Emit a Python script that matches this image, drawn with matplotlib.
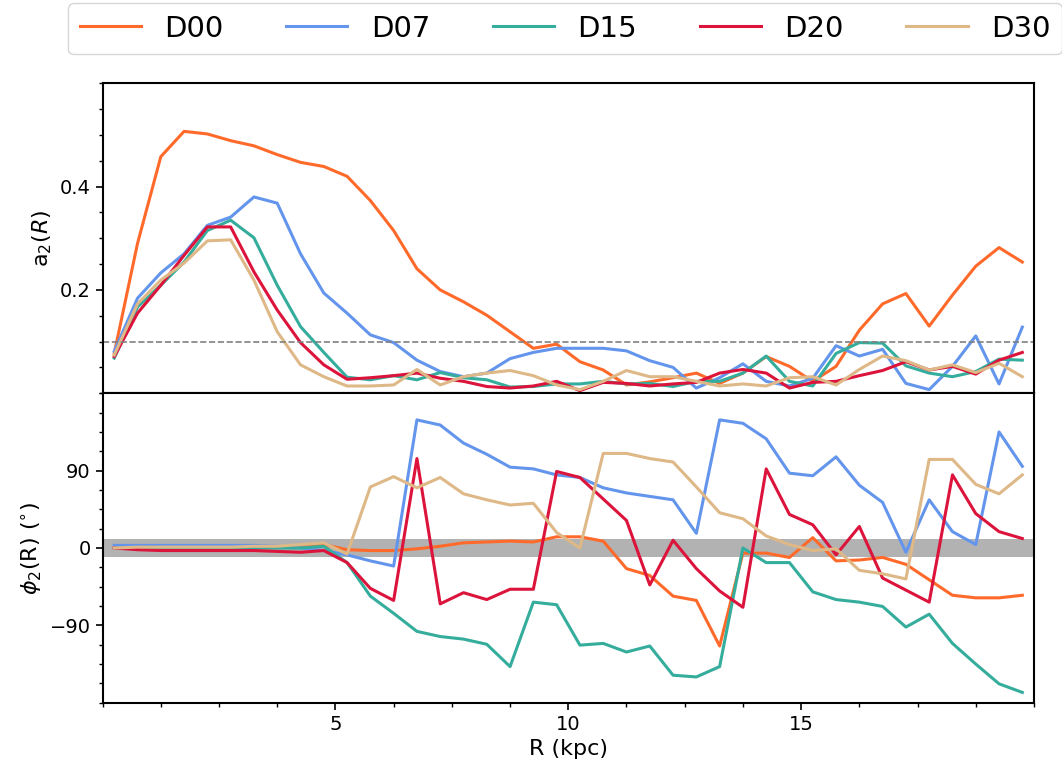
import numpy as np
import matplotlib
matplotlib.use("Agg")
import matplotlib.pyplot as plt
from matplotlib.ticker import MultipleLocator

# radii of the annuli (kpc)
R = np.arange(40) * 0.5 + 0.25

labels = ["D00", "D07", "D15", "D20", "D30"]
colors = ["#ff6a2a", "cornflowerblue", "#35ad9c", "crimson", "burlywood"]

# bar strength a2(R)
a2_D00 = [0.077, 0.29, 0.458, 0.507, 0.502, 0.489, 0.479, 0.462, 0.447, 0.439,
          0.420, 0.373, 0.315, 0.241, 0.200, 0.177, 0.151, 0.119, 0.087, 0.095,
          0.061, 0.045, 0.016, 0.022, 0.030, 0.039, 0.019, 0.039, 0.071, 0.052,
          0.023, 0.052, 0.122, 0.173, 0.193, 0.130, 0.190, 0.246, 0.282, 0.254]
a2_D07 = [0.081, 0.184, 0.233, 0.270, 0.325, 0.341, 0.380, 0.368, 0.270, 0.194,
          0.155, 0.113, 0.098, 0.064, 0.042, 0.032, 0.039, 0.067, 0.079, 0.087,
          0.087, 0.087, 0.082, 0.063, 0.050, 0.010, 0.030, 0.057, 0.023, 0.014,
          0.029, 0.092, 0.072, 0.085, 0.019, 0.007, 0.052, 0.111, 0.018, 0.128]
a2_D15 = [0.068, 0.167, 0.209, 0.254, 0.315, 0.335, 0.301, 0.209, 0.129, 0.079,
          0.031, 0.026, 0.034, 0.026, 0.040, 0.030, 0.026, 0.012, 0.013, 0.018,
          0.018, 0.023, 0.018, 0.019, 0.013, 0.023, 0.023, 0.039, 0.072, 0.023,
          0.014, 0.077, 0.098, 0.097, 0.053, 0.039, 0.032, 0.042, 0.066, 0.064]
a2_D20 = [0.071, 0.155, 0.209, 0.267, 0.322, 0.322, 0.235, 0.161, 0.098, 0.055,
          0.027, 0.030, 0.034, 0.039, 0.029, 0.023, 0.013, 0.010, 0.014, 0.023,
          0.005, 0.021, 0.019, 0.014, 0.018, 0.021, 0.039, 0.046, 0.039, 0.010,
          0.021, 0.023, 0.034, 0.044, 0.061, 0.045, 0.052, 0.037, 0.064, 0.079]
a2_D30 = [0.074, 0.173, 0.219, 0.252, 0.295, 0.297, 0.219, 0.119, 0.055, 0.032,
          0.014, 0.014, 0.016, 0.046, 0.016, 0.032, 0.039, 0.044, 0.034, 0.016,
          0.007, 0.023, 0.044, 0.032, 0.032, 0.023, 0.014, 0.018, 0.014, 0.030,
          0.032, 0.016, 0.046, 0.072, 0.063, 0.045, 0.055, 0.040, 0.058, 0.032]

# phase angle phi2(R) in degrees
phi_D00 = [0, -1, -1, -1, -1, -1, 0, 1, 2, 4,
           -2, -3, -3, -1, 2, 6, 7, 8, 7, 13,
           13, 8, -24, -32, -56, -61, -114, -6, -6, -11,
           12, -15, -14, -11, -19, -37, -55, -58, -58, -55]
phi_D07 = [3, 3, 3, 3, 3, 3, 3, 2, 0, -3,
           -8, -15, -21, 149, 143, 122, 109, 94, 92, 85,
           82, 70, 64, 60, 56, 17, 149, 145, 127, 87,
           84, 106, 73, 53, -5, 56, 19, 4, 135, 95]
phi_D15 = [0, -1, -1, -1, -1, -1, 0, 0, 0, 2,
           -17, -56, -76, -97, -103, -106, -112, -138, -63, -66,
           -113, -111, -121, -114, -148, -150, -138, 0, -17, -17,
           -51, -60, -63, -68, -92, -77, -111, -135, -158, -168]
phi_D20 = [0, -2, -3, -3, -3, -3, -3, -4, -5, -3,
           -17, -47, -61, 104, -65, -52, -60, -48, -48, 89,
           82, 57, 32, -43, 9, -24, -50, -69, 92, 39,
           27, -8, 25, -35, -49, -63, 85, 40, 19, 11]
phi_D30 = [0, 1, 1, 1, 1, 1, 2, 2, 4, 6,
           -7, 71, 83, 70, 82, 63, 56, 50, 52, 18,
           0, 110, 110, 104, 100, 71, 41, 34, 14, 4,
           -3, -1, -26, -30, -36, 103, 103, 74, 63, 85]

a2_all = [a2_D00, a2_D07, a2_D15, a2_D20, a2_D30]
phi_all = [phi_D00, phi_D07, phi_D15, phi_D20, phi_D30]

fig = plt.figure(figsize=(10.62, 7.73), dpi=100)
ax1 = fig.add_axes([0.0966, 0.4913, 0.8770, 0.4009])
ax2 = fig.add_axes([0.0966, 0.0909, 0.8770, 0.4004], sharex=ax1)

lines = []
for lab, col, a2, phi in zip(labels, colors, a2_all, phi_all):
    l, = ax1.plot(R, a2, color=col, lw=2.2, label=lab)
    ax2.plot(R, phi, color=col, lw=2.2)
    lines.append(l)

ax1.axhline(0.1, color="gray", ls="--", lw=1.2)
ax2.axhspan(-10, 10, color="gray", alpha=0.6, lw=0, zorder=0)

ax1.set_xlim(0, 20)
ax1.set_ylim(0, 0.6)
ax1.set_yticks([0.2, 0.4])
ax1.yaxis.set_minor_locator(MultipleLocator(0.05))
ax1.tick_params(axis="x", which="both", bottom=False, labelbottom=False)
ax1.set_ylabel(r"a$_2(R)$", fontsize=16)

ax2.set_ylim(-180, 180)
ax2.set_yticks([-90, 0, 90])
ax2.yaxis.set_minor_locator(MultipleLocator(22.5))
ax2.set_xticks([5, 10, 15])
ax2.xaxis.set_minor_locator(MultipleLocator(1.25))
ax2.set_xlabel("R (kpc)", fontsize=16)
ax2.set_ylabel(r"$\phi_2$(R) ($^{\circ}$)", fontsize=16)

for ax in (ax1, ax2):
    for s in ax.spines.values():
        s.set_linewidth(1.5)
    ax.tick_params(which="major", length=5, width=1.2, labelsize=14)
    ax.tick_params(which="minor", length=3, width=1.0)

fig.legend(lines, labels, loc="upper left", bbox_to_anchor=(68 / 1062, 1 - 3 / 773),
           ncol=5, fontsize=21, borderaxespad=0, handlelength=2.1,
           columnspacing=2.15)

fig.savefig("out.png", dpi=100)
